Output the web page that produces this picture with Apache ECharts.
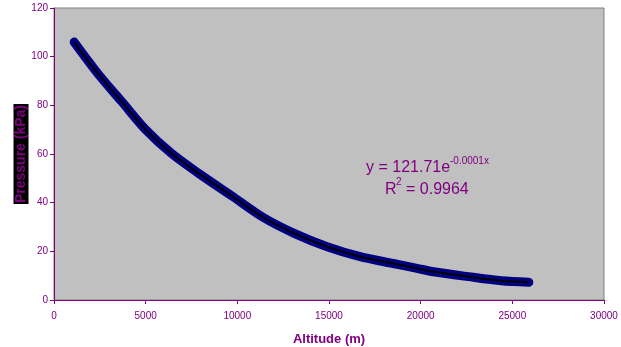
<!DOCTYPE html>
<html>
<head>
<meta charset="utf-8">
<script src="https://cdn.jsdelivr.net/npm/echarts@6/dist/echarts.min.js"></script>
<style>
  html, body { margin: 0; padding: 0; background: #fff; }
  #chart { width: 621px; height: 347px; }
</style>
</head>
<body>
<div id="chart"></div>
<script>
const altitude = [1100, 2400, 3700, 5000, 6400, 7900, 9700, 11400, 13100, 14900, 16700, 18500, 19800, 20700, 22600, 24400, 25900];
const pressure = [106, 93, 81.5, 70, 60.3, 52, 42.8, 34, 27.4, 21.9, 17.8, 15, 13, 11.6, 9.6, 7.9, 7.3];
const xTicks = [0, 5000, 10000, 15000, 20000, 25000, 30000];
const yTicks = [0, 20, 40, 60, 80, 100, 120];

const purple = '#800080';
const font = 'Liberation Sans, Arial, sans-serif';
const points = altitude.map((a, i) => [a, pressure[i]]);

const chart = echarts.init(document.getElementById('chart'));
chart.setOption({
    animation: false,
    textStyle: { fontFamily: font },
    grid: {
        left: 54, right: 17, top: 8, bottom: 47,
        containLabel: false,
        outerBoundsMode: 'none',
        show: true,
        backgroundColor: '#c0c0c0',
        borderColor: '#808080',
        borderWidth: 1
    },
    xAxis: {
        type: 'value',
        min: xTicks[0], max: xTicks[xTicks.length - 1], interval: 5000,
        axisLine: { lineStyle: { color: purple, width: 1 } },
        axisTick: { show: true, length: 4, lineStyle: { color: purple } },
        axisLabel: { color: purple, fontSize: 10, margin: 11, formatter: v => String(v) },
        splitLine: { show: false },
        name: 'Altitude (m)',
        nameLocation: 'middle',
        nameGap: 33,
        nameTextStyle: { color: purple, fontSize: 13, fontWeight: 'bold' }
    },
    yAxis: {
        type: 'value',
        min: yTicks[0], max: yTicks[yTicks.length - 1], interval: 20,
        axisLine: { show: true, lineStyle: { color: purple, width: 1 } },
        axisTick: { show: true, length: 4, lineStyle: { color: purple } },
        axisLabel: { color: purple, fontSize: 10, margin: 6 },
        splitLine: { show: false }
    },
    series: [
        {
            type: 'line',
            data: points,
            smooth: 0.3,
            showSymbol: false,
            lineStyle: { color: '#000080', width: 9, cap: 'round', join: 'round' },
            z: 2
        },
        {
            type: 'line',
            data: points,
            smooth: 0.3,
            showSymbol: false,
            lineStyle: { color: '#000000', width: 2 },
            z: 3
        }
    ],
    graphic: [
        {
            type: 'text',
            x: 21, y: 154,
            rotation: Math.PI / 2,
            style: {
                text: 'Pressure (kPa)',
                x: 0, y: 0,
                align: 'center',
                verticalAlign: 'middle',
                fill: purple,
                font: 'bold 14px ' + font,
                backgroundColor: '#000',
                padding: [1, 1, 0, 1]
            }
        },
        {
            type: 'text',
            x: 366, y: 168,
            style: {
                text: 'y = 121.71e',
                verticalAlign: 'middle',
                fill: purple,
                font: '16px ' + font
            }
        },
        {
            type: 'text',
            x: 450, y: 161,
            style: {
                text: '-0.0001x',
                verticalAlign: 'middle',
                fill: purple,
                font: '10px ' + font
            }
        },
        {
            type: 'text',
            x: 385, y: 190,
            style: {
                text: 'R',
                verticalAlign: 'middle',
                fill: purple,
                font: '16px ' + font
            }
        },
        {
            type: 'text',
            x: 396, y: 182,
            style: {
                text: '2',
                verticalAlign: 'middle',
                fill: purple,
                font: '10px ' + font
            }
        },
        {
            type: 'text',
            x: 406, y: 190,
            style: {
                text: '= 0.9964',
                verticalAlign: 'middle',
                fill: purple,
                font: '16px ' + font
            }
        }
    ]
});
</script>
</body>
</html>
